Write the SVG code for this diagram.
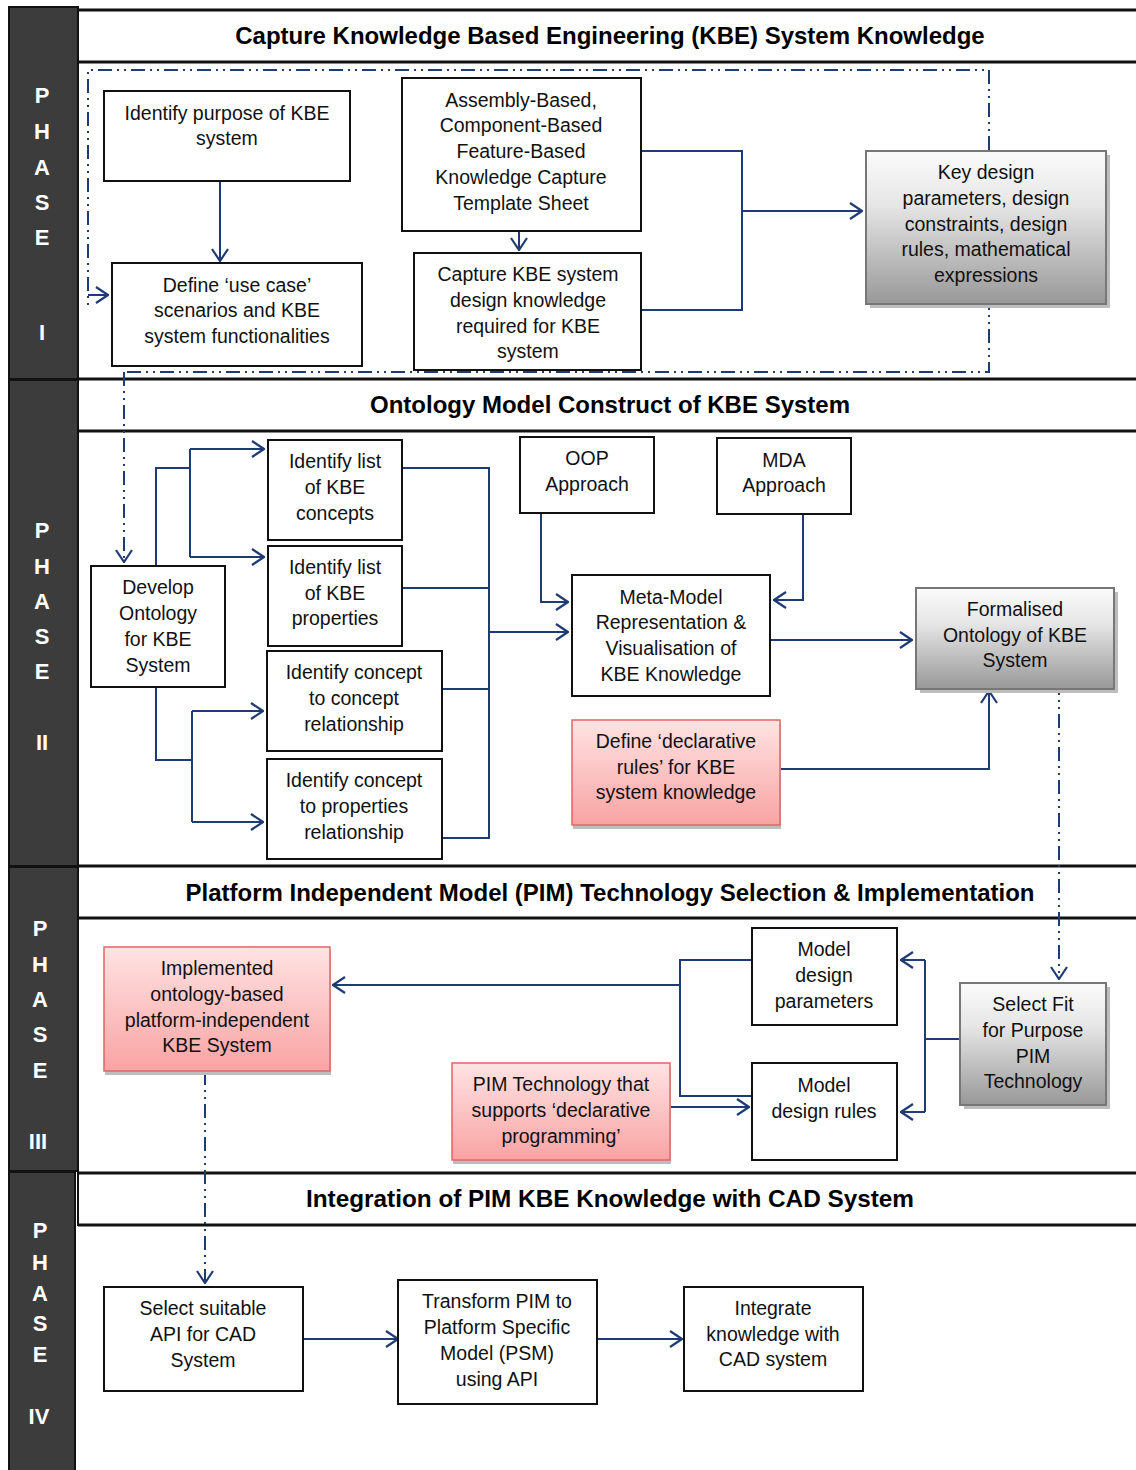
<svg xmlns="http://www.w3.org/2000/svg" width="1136" height="1470" viewBox="0 0 1136 1470">
  <defs>
    <style>
      .bar { fill: #3c3c3c; stroke: #111; stroke-width: 2; }
      .band { stroke: #111; stroke-width: 3; }
      .plab { font-family: "Liberation Sans", Arial, sans-serif; font-weight: bold; font-size: 22px; fill: #fff; text-anchor: middle; }
      .title { font-family: "Liberation Sans", Arial, sans-serif; font-weight: bold; font-size: 24px; fill: #000; text-anchor: middle; }
      .box { fill: #fff; stroke: #111; stroke-width: 2; }
      .grey { fill: url(#gGrey); stroke: #777; stroke-width: 2; }
      .pink { fill: url(#gPink); stroke: #e06666; stroke-width: 1.5; }
      .shadow { fill: #bdbdbd; }
      .t { font-family: "Liberation Sans", Arial, sans-serif; font-size: 19.5px; fill: #111; text-anchor: middle; }
      .c { fill: none; stroke: #1f3b73; stroke-width: 2; }
      .ca { fill: none; stroke: #1f3b73; stroke-width: 2; marker-end: url(#arr); }
      .dd { fill: none; stroke: #1f3b73; stroke-width: 2; stroke-dasharray: 14 5 2 5 2 5; }
      .dda { fill: none; stroke: #1f3b73; stroke-width: 2; stroke-dasharray: 14 5 2 5 2 5; marker-end: url(#arr); }
    </style>
    <marker id="arr" viewBox="0 0 14 18" refX="13" refY="9" markerWidth="14" markerHeight="18" markerUnits="userSpaceOnUse" orient="auto">
      <path d="M1,1 L13,9 L1,17" fill="none" stroke="#1f3b73" stroke-width="2.2"/>
    </marker>
    <linearGradient id="gGrey" x1="0" y1="0" x2="0" y2="1">
      <stop offset="0" stop-color="#fbfbfb"/>
      <stop offset="0.35" stop-color="#e6e6e6"/>
      <stop offset="1" stop-color="#989898"/>
    </linearGradient>
    <linearGradient id="gPink" x1="0" y1="0" x2="0" y2="1">
      <stop offset="0" stop-color="#ffe3e3"/>
      <stop offset="1" stop-color="#f9a3a3"/>
    </linearGradient>
  </defs>

  <!-- phase side bars -->
  <g id="phase-bars">
    <rect class="bar" x="9" y="7" width="69" height="372"/>
    <rect class="bar" x="9" y="380" width="69" height="486"/>
    <rect class="bar" x="9" y="867" width="69" height="304"/>
    <rect class="bar" x="9" y="1172" width="66" height="300"/>
    <text class="plab" x="42" y="103">P</text>
    <text class="plab" x="42" y="139">H</text>
    <text class="plab" x="42" y="175">A</text>
    <text class="plab" x="42" y="210">S</text>
    <text class="plab" x="42" y="245">E</text>
    <text class="plab" x="42" y="340">I</text>
    <text class="plab" x="42" y="538">P</text>
    <text class="plab" x="42" y="574">H</text>
    <text class="plab" x="42" y="609">A</text>
    <text class="plab" x="42" y="644">S</text>
    <text class="plab" x="42" y="679">E</text>
    <text class="plab" x="42" y="750">II</text>
    <text class="plab" x="40" y="936">P</text>
    <text class="plab" x="40" y="972">H</text>
    <text class="plab" x="40" y="1007">A</text>
    <text class="plab" x="40" y="1042">S</text>
    <text class="plab" x="40" y="1078">E</text>
    <text class="plab" x="38" y="1149">III</text>
    <text class="plab" x="40" y="1238">P</text>
    <text class="plab" x="40" y="1270">H</text>
    <text class="plab" x="40" y="1301">A</text>
    <text class="plab" x="40" y="1331">S</text>
    <text class="plab" x="40" y="1362">E</text>
    <text class="plab" x="39" y="1424">IV</text>
  </g>

  <!-- phase title bands and separators -->
  <g id="bands">
    <line class="band" x1="78" y1="10" x2="1136" y2="10"/>
    <line class="band" x1="78" y1="62" x2="1136" y2="62"/>
    <line class="band" x1="78" y1="379" x2="1136" y2="379"/>
    <line class="band" x1="78" y1="431" x2="1136" y2="431"/>
    <line class="band" x1="78" y1="866" x2="1136" y2="866"/>
    <line class="band" x1="78" y1="918" x2="1136" y2="918"/>
    <line class="band" x1="78" y1="1173" x2="1136" y2="1173"/>
    <line class="band" x1="78" y1="1225" x2="1136" y2="1225"/>
    <line x1="78" y1="1172" x2="78" y2="1226" stroke="#111" stroke-width="2"/>
    <text class="title" x="610" y="44">Capture Knowledge Based Engineering (KBE) System Knowledge</text>
    <text class="title" x="610" y="413">Ontology Model Construct of KBE System</text>
    <text class="title" x="610" y="901">Platform Independent Model (PIM) Technology Selection &amp; Implementation</text>
    <text class="title" x="610" y="1207" textLength="608" lengthAdjust="spacingAndGlyphs">Integration of PIM KBE Knowledge with CAD System</text>
  </g>

  <!-- connectors -->
  <g id="connectors">
    <!-- phase I -->
    <path class="dd" d="M989,150 V70 H88 V308"/>
    <path class="ca" d="M88,295 H108"/>
    <path class="dd" d="M989,296 V372 H124"/>
    <path class="dda" d="M124,372 V562"/>
    <path class="ca" d="M220,181 V261"/>
    <path class="ca" d="M519,231 V250"/>
    <path class="c" d="M641,151 H742 V310 H641"/>
    <path class="ca" d="M742,211 H862"/>
    <!-- phase II -->
    <path class="c" d="M156,566 V468 H190"/>
    <path class="c" d="M190,449 V557"/>
    <path class="ca" d="M190,449 H264"/>
    <path class="ca" d="M190,557 H264"/>
    <path class="c" d="M156,687 V760 H192"/>
    <path class="c" d="M192,711 V822"/>
    <path class="ca" d="M192,711 H263"/>
    <path class="ca" d="M192,822 H263"/>
    <path class="c" d="M402,468 H489 V838 H442"/>
    <path class="c" d="M402,588 H489"/>
    <path class="c" d="M442,689 H489"/>
    <path class="ca" d="M489,632 H568"/>
    <path class="ca" d="M541,510 V602 H568"/>
    <path class="ca" d="M803,512 V600 H774"/>
    <path class="ca" d="M770,640 H912"/>
    <path class="ca" d="M780,769 H989 V691"/>
    <path class="dda" d="M1059,681 V979"/>
    <!-- phase III -->
    <path class="c" d="M960,1039 H925"/>
    <path class="c" d="M925,960 V1112"/>
    <path class="ca" d="M925,960 H901"/>
    <path class="ca" d="M925,1112 H901"/>
    <path class="c" d="M752,960 H680 V1096 H752"/>
    <path class="ca" d="M680,985 H333"/>
    <path class="ca" d="M670,1107 H749"/>
    <path class="dda" d="M205,1071 V1283"/>
    <!-- phase IV -->
    <path class="ca" d="M303,1339 H398"/>
    <path class="ca" d="M597,1339 H682"/>
  </g>

  <!-- phase I nodes -->
  <g id="purpose">
    <rect class="box" x="104" y="91" width="246" height="90"/>
    <text class="t" x="227" y="120">Identify purpose of KBE</text>
    <text class="t" x="227" y="145">system</text>
  </g>
  <g id="use-case">
    <rect class="box" x="112" y="263" width="250" height="103"/>
    <text class="t" x="237" y="292">Define ‘use case’</text>
    <text class="t" x="237" y="317">scenarios and KBE</text>
    <text class="t" x="237" y="343">system functionalities</text>
  </g>
  <g id="template-sheet">
    <rect class="box" x="402" y="78" width="239" height="153"/>
    <text class="t" x="521" y="107">Assembly-Based,</text>
    <text class="t" x="521" y="132">Component-Based</text>
    <text class="t" x="521" y="158">Feature-Based</text>
    <text class="t" x="521" y="184">Knowledge Capture</text>
    <text class="t" x="521" y="210">Template Sheet</text>
  </g>
  <g id="capture-knowledge">
    <rect class="box" x="414" y="253" width="227" height="117"/>
    <text class="t" x="528" y="281">Capture KBE system</text>
    <text class="t" x="528" y="307">design knowledge</text>
    <text class="t" x="528" y="333">required for KBE</text>
    <text class="t" x="528" y="358">system</text>
  </g>
  <g id="key-design">
    <rect class="shadow" x="870" y="155" width="240" height="153"/>
    <rect class="grey" x="866" y="151" width="240" height="153"/>
    <text class="t" x="986" y="179">Key design</text>
    <text class="t" x="986" y="205">parameters, design</text>
    <text class="t" x="986" y="231">constraints, design</text>
    <text class="t" x="986" y="256">rules, mathematical</text>
    <text class="t" x="986" y="282">expressions</text>
  </g>

  <!-- phase II nodes -->
  <g id="develop-ontology">
    <rect class="box" x="91" y="566" width="134" height="121"/>
    <text class="t" x="158" y="594">Develop</text>
    <text class="t" x="158" y="620">Ontology</text>
    <text class="t" x="158" y="646">for KBE</text>
    <text class="t" x="158" y="672">System</text>
  </g>
  <g id="kbe-concepts">
    <rect class="box" x="268" y="440" width="134" height="100"/>
    <text class="t" x="335" y="468">Identify list</text>
    <text class="t" x="335" y="494">of KBE</text>
    <text class="t" x="335" y="520">concepts</text>
  </g>
  <g id="kbe-properties">
    <rect class="box" x="268" y="546" width="134" height="100"/>
    <text class="t" x="335" y="574">Identify list</text>
    <text class="t" x="335" y="600">of KBE</text>
    <text class="t" x="335" y="625">properties</text>
  </g>
  <g id="concept-concept">
    <rect class="box" x="267" y="651" width="175" height="100"/>
    <text class="t" x="354" y="679">Identify concept</text>
    <text class="t" x="354" y="705">to concept</text>
    <text class="t" x="354" y="731">relationship</text>
  </g>
  <g id="concept-properties">
    <rect class="box" x="267" y="759" width="175" height="100"/>
    <text class="t" x="354" y="787">Identify concept</text>
    <text class="t" x="354" y="813">to properties</text>
    <text class="t" x="354" y="839">relationship</text>
  </g>
  <g id="oop">
    <rect class="box" x="520" y="437" width="134" height="76"/>
    <text class="t" x="587" y="465">OOP</text>
    <text class="t" x="587" y="491">Approach</text>
  </g>
  <g id="mda">
    <rect class="box" x="717" y="438" width="134" height="76"/>
    <text class="t" x="784" y="467">MDA</text>
    <text class="t" x="784" y="492">Approach</text>
  </g>
  <g id="meta-model">
    <rect class="box" x="572" y="575" width="198" height="121"/>
    <text class="t" x="671" y="604">Meta-Model</text>
    <text class="t" x="671" y="629">Representation &amp;</text>
    <text class="t" x="671" y="655">Visualisation of</text>
    <text class="t" x="671" y="681">KBE Knowledge</text>
  </g>
  <g id="formalised-ontology">
    <rect class="shadow" x="920" y="592" width="198" height="101"/>
    <rect class="grey" x="916" y="588" width="198" height="101"/>
    <text class="t" x="1015" y="616">Formalised</text>
    <text class="t" x="1015" y="642">Ontology of KBE</text>
    <text class="t" x="1015" y="667">System</text>
  </g>
  <g id="declarative-rules">
    <rect class="shadow" x="573" y="724" width="208" height="105"/>
    <rect class="pink" x="572" y="720" width="208" height="105"/>
    <text class="t" x="676" y="748">Define ‘declarative</text>
    <text class="t" x="676" y="774">rules’ for KBE</text>
    <text class="t" x="676" y="799">system knowledge</text>
  </g>

  <!-- phase III nodes -->
  <g id="implemented-system">
    <rect class="shadow" x="105" y="951" width="226" height="124"/>
    <rect class="pink" x="104" y="947" width="226" height="124"/>
    <text class="t" x="217" y="975">Implemented</text>
    <text class="t" x="217" y="1001">ontology-based</text>
    <text class="t" x="217" y="1027">platform-independent</text>
    <text class="t" x="217" y="1052">KBE System</text>
  </g>
  <g id="design-parameters">
    <rect class="box" x="752" y="928" width="145" height="97"/>
    <text class="t" x="824" y="956">Model</text>
    <text class="t" x="824" y="982">design</text>
    <text class="t" x="824" y="1008">parameters</text>
  </g>
  <g id="design-rules">
    <rect class="box" x="752" y="1063" width="145" height="97"/>
    <text class="t" x="824" y="1092">Model</text>
    <text class="t" x="824" y="1118">design rules</text>
  </g>
  <g id="select-pim">
    <rect class="shadow" x="964" y="987" width="146" height="122"/>
    <rect class="grey" x="960" y="983" width="146" height="122"/>
    <text class="t" x="1033" y="1011">Select Fit</text>
    <text class="t" x="1033" y="1037">for Purpose</text>
    <text class="t" x="1033" y="1063">PIM</text>
    <text class="t" x="1033" y="1088">Technology</text>
  </g>
  <g id="pim-declarative">
    <rect class="shadow" x="453" y="1067" width="218" height="97"/>
    <rect class="pink" x="452" y="1063" width="218" height="97"/>
    <text class="t" x="561" y="1091">PIM Technology that</text>
    <text class="t" x="561" y="1117">supports ‘declarative</text>
    <text class="t" x="561" y="1143">programming’</text>
  </g>

  <!-- phase IV nodes -->
  <g id="select-api">
    <rect class="box" x="104" y="1287" width="199" height="104"/>
    <text class="t" x="203" y="1315">Select suitable</text>
    <text class="t" x="203" y="1341">API for CAD</text>
    <text class="t" x="203" y="1367">System</text>
  </g>
  <g id="transform-psm">
    <rect class="box" x="398" y="1280" width="199" height="124"/>
    <text class="t" x="497" y="1308">Transform PIM to</text>
    <text class="t" x="497" y="1334">Platform Specific</text>
    <text class="t" x="497" y="1360">Model (PSM)</text>
    <text class="t" x="497" y="1386">using API</text>
  </g>
  <g id="integrate-cad">
    <rect class="box" x="684" y="1287" width="179" height="104"/>
    <text class="t" x="773" y="1315">Integrate</text>
    <text class="t" x="773" y="1341">knowledge with</text>
    <text class="t" x="773" y="1366">CAD system</text>
  </g>
</svg>
